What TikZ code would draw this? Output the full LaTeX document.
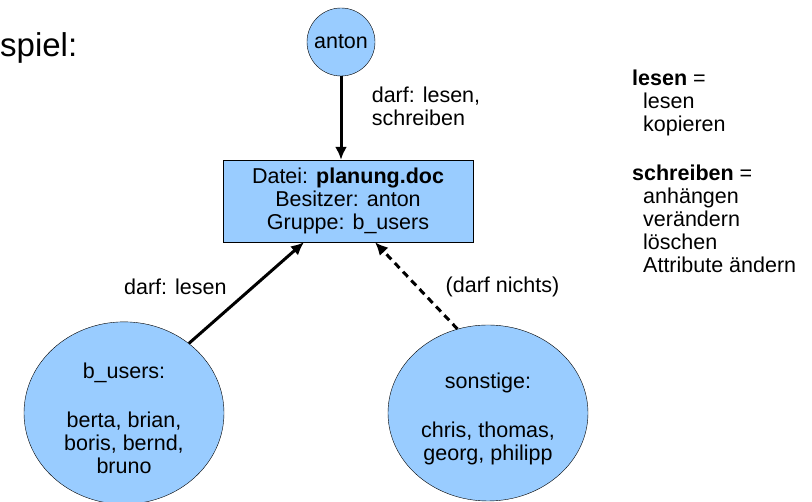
\documentclass[tikz,border=0pt]{standalone}
\usepackage{fontspec}
\setmainfont{Liberation Sans}
\usetikzlibrary{arrows.meta,shapes.geometric}
\definecolor{userblue}{HTML}{99CCFF}

\begin{document}
\begin{tikzpicture}[x=1pt,y=1pt,font=\fontsize{21.5}{23}\selectfont]
\tikzstyle{person}=[draw, circle, fill=userblue, inner sep=0pt, minimum size=68pt]
\tikzstyle{group}=[draw, ellipse, fill=userblue, align=center, minimum width=200pt, minimum height=176pt]
\tikzstyle{file}=[draw, fill=userblue, align=center, minimum width=250pt, minimum height=82pt]
\tikzstyle{perm}=[line width=3pt, -{Latex[length=13pt,width=12pt]}]
    \useasboundingbox (0,0) rectangle (812,502);
    \node[anchor=base west, inner sep=0pt, font=\fontsize{33}{38}\selectfont] (title) at (0,445) {spiel:};
    \node[person] (anton) at (341,460) {anton};
    \node[file] (datei) at (348,301) {Datei: \textbf{planung.doc}\\Besitzer: anton\\Gruppe: b\_users};
    \node[group] (busers) at (124,89) {\rule{0pt}{27pt}b\_users:\\[26pt]berta, brian,\\boris, bernd,\\bruno};
    \node[group] (sonstige) at (488,89) {\rule{0pt}{27pt}sonstige:\\[26pt]chris, thomas,\\georg, philipp};
    \node[anchor=north west, align=left, inner sep=0pt] (rechte) at (632,432) {\textbf{lesen} =\\\hspace*{11pt}lesen\\\hspace*{11pt}kopieren\\[26pt]\textbf{schreiben} =\\\hspace*{11pt}anhängen\\\hspace*{11pt}verändern\\\hspace*{11pt}löschen\\\hspace*{11pt}Attribute ändern};
    \coordinate (dl) at ([xshift=-44pt]datei.south);
    \coordinate (dr) at ([xshift=27pt]datei.south);
    \draw [perm] (anton) -- (anton |- datei.north) node [pos=.36, right=26pt, align=left] (antonlbl) {darf: lesen,\\schreiben};
    \draw [perm] (busers.47) -- (dl) node [pos=.56, left=22pt] (lesenlbl) {darf: lesen};
    \draw [perm, dash pattern=on 7pt off 5pt] (sonstige.110) -- (dr) node [pos=.48, right=23pt] (nichtslbl) {(darf nichts)};
\end{tikzpicture}
\end{document}
